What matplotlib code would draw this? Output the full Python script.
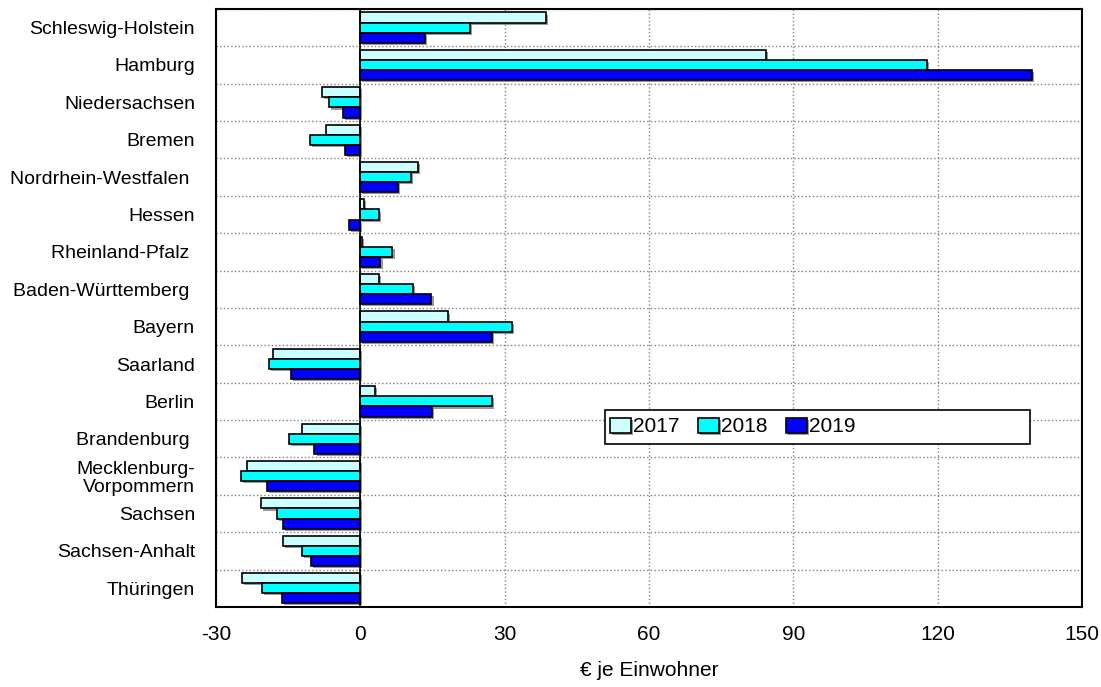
import numpy as np
import matplotlib.pyplot as plt
from matplotlib.patches import Rectangle
import matplotlib.patheffects as pe

plt.rcParams['font.family'] = ['Liberation Sans', 'DejaVu Sans']
plt.rcParams['axes.unicode_minus'] = False

laender = ["Schleswig-Holstein", "Hamburg", "Niedersachsen", "Bremen",
           "Nordrhein-Westfalen ", "Hessen", "Rheinland-Pfalz ", "Baden-Württemberg ",
           "Bayern", "Saarland", "Berlin", "Brandenburg ",
           "Mecklenburg-\nVorpommern", "Sachsen", "Sachsen-Anhalt", "Thüringen"]
jahre = ["2017", "2018", "2019"]
v2017 = [38.5, 84.2, -8.0, -7.1, 12.0, 0.8, 0.4, 3.9,
         18.3, -18.1, 3.1, -12.1, -23.5, -20.6, -16.0, -24.6]
v2018 = [22.8, 117.7, -6.4, -10.4, 10.6, 3.9, 6.7, 11.0,
         31.5, -19.0, 27.4, -14.8, -24.8, -17.2, -12.1, -20.4]
v2019 = [13.5, 139.6, -3.5, -3.2, 7.9, -2.4, 4.2, 14.8,
         27.4, -14.3, 14.9, -9.5, -19.3, -16.1, -10.3, -16.2]
farben = ["#ccffff", "#00ffff", "#0000ff"]

fig = plt.figure(figsize=(11.01, 6.87), dpi=100)
ax = fig.add_axes([0.196, 0.1165, 0.787, 0.8705])

y = np.arange(len(laender))
h = 0.27
shadow = [pe.SimplePatchShadow(offset=(1.5, -1.5), shadow_rgbFace="gray", alpha=0.8), pe.Normal()]
handles = []
for i, (werte, farbe, jahr) in enumerate(zip([v2017, v2018, v2019], farben, jahre)):
    bars = ax.barh(y + (i - 1) * h, werte, height=h, color=farbe,
                   edgecolor="black", linewidth=1.2, label=jahr, zorder=3)
    for b in bars:
        b.set_path_effects(shadow)
    handles.append(bars)

ax.set_xlim(-30, 150)
ax.set_ylim(len(laender) - 0.5, -0.5)
ax.set_xticks(np.arange(-30, 151, 30))
ax.set_yticks(y)
ax.set_yticklabels(laender, fontsize=14, linespacing=1.05)
ax.set_yticks(np.arange(-0.5, len(laender), 1), minor=True)
ax.tick_params(axis="x", labelsize=15, length=0, pad=13)
ax.tick_params(axis="y", which="both", length=0, pad=15)
ax.grid(axis="x", which="major", color="gray", linestyle=":", linewidth=1, zorder=0)
ax.grid(axis="y", which="minor", color="gray", linestyle=":", linewidth=1, zorder=0)
ax.axvline(0, color="black", linewidth=1.2, zorder=4)
for s in ax.spines.values():
    s.set_linewidth(1.5)

ax.set_xlabel("€ je Einwohner", fontsize=15, labelpad=12)

# legend box
ax.add_patch(Rectangle((0.449, 0.273), 0.491, 0.056, transform=ax.transAxes,
                       facecolor="white", edgecolor="black", linewidth=1.2, zorder=5))
ax.legend(handles=handles, loc="center left", bbox_to_anchor=(0.4475, 0.301),
          ncol=3, frameon=False, fontsize=15, handlelength=1.0, handleheight=0.75,
          handletextpad=0.1, columnspacing=0.9, borderaxespad=0.0, borderpad=0.3)
ax.get_legend().set_zorder(6)

fig.savefig("out.png", dpi=100)
